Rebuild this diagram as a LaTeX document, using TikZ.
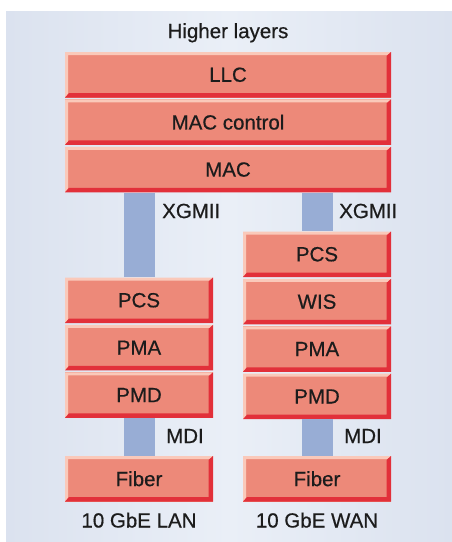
\documentclass[tikz,border=0pt]{standalone}
\usepackage{fontspec}
\setmainfont{Liberation Sans}[FakeBold=0.5]
\usetikzlibrary{positioning}

\definecolor{panelside}{RGB}{219,226,239}
\definecolor{panelmid}{RGB}{234,239,247}
\definecolor{layerfill}{RGB}{237,137,121}
\definecolor{layeredge}{RGB}{226,48,58}
\definecolor{layerlight}{RGB}{250,201,186}
\definecolor{barblue}{RGB}{152,173,213}
\definecolor{inktext}{RGB}{28,28,28}

\newcommand\layerfont{\fontsize{20.5}{24}\selectfont}

\begin{document}
\begin{tikzpicture}[
    x=1pt, y=-1pt,
    layer/.style={minimum width=148pt, minimum height=45.5pt, inner sep=0pt, fill=layerfill,
        text=inktext, font=\layerfont,
        path picture={
            \fill[layerlight] (path picture bounding box.south west) -- (path picture bounding box.north west)
                -- (path picture bounding box.north east) -- ([shift={(-3pt,-3pt)}]path picture bounding box.north east)
                -- ([shift={(3pt,-3pt)}]path picture bounding box.north west) -- ([shift={(3pt,3pt)}]path picture bounding box.south west) -- cycle;
            \fill[layeredge] (path picture bounding box.south west) -- (path picture bounding box.south east)
                -- (path picture bounding box.north east) -- ([shift={(-4.5pt,-4pt)}]path picture bounding box.north east)
                -- ([shift={(-4.5pt,4.5pt)}]path picture bounding box.south east) -- ([shift={(4pt,4.5pt)}]path picture bounding box.south west) -- cycle;
        }},
    widelayer/.style={layer, minimum width=326pt},
    bar/.style={draw=barblue, line width=31pt},
    iflabel/.style={anchor=west, inner sep=0pt, text=inktext, font=\layerfont},
    caption/.style={inner sep=0pt, text=inktext, font=\layerfont}
]
\useasboundingbox (0,0) rectangle (452,542);
\shade[left color=panelside, right color=panelside, middle color=panelmid] (6,11) rectangle (452,542);

% common upper layers
\node[widelayer] (llc) at (228,74.75) {LLC};
\node[widelayer, below=1.5pt of llc] (maccontrol) {MAC control};
\node[widelayer, below=1.5pt of maccontrol] (mac) {MAC};
\node[caption] (higher) at ([yshift=19pt]llc.north) {Higher layers};

% 10 GbE LAN stack
\node[layer] (pcsL) at (139,300.25) {PCS};
\node[layer, below=1.5pt of pcsL] (pmaL) {PMA};
\node[layer, below=1.5pt of pmaL] (pmdL) {PMD};
\node[layer] (fiberL) at (139,478.75) {Fiber};
\node[caption] (lan) at ([yshift=-18.5pt]fiberL.south) {10 GbE LAN};

% 10 GbE WAN stack
\node[layer] (pcsR) at (317,254.25) {PCS};
\node[layer, below=1.5pt of pcsR] (wisR) {WIS};
\node[layer, below=1.5pt of wisR] (pmaR) {PMA};
\node[layer, below=1.5pt of pmaR] (pmdR) {PMD};
\node[layer] (fiberR) at (317,478.75) {Fiber};
\node[caption] (wan) at ([yshift=-18.5pt]fiberR.south) {10 GbE WAN};

% interfaces
\draw[bar] (mac.south -| pcsL.north) -- (pcsL.north);
\draw[bar] (mac.south -| pcsR.north) -- (pcsR.north);
\draw[bar] (pmdL.south) -- (fiberL.north);
\draw[bar] (pmdR.south) -- (fiberR.north);

\node[iflabel] (xgmiiL) at (162,211) {XGMII};
\node[iflabel] (xgmiiR) at (339,211) {XGMII};
\node[iflabel] (mdiL) at (166,436) {MDI};
\node[iflabel] (mdiR) at (344,436) {MDI};
\end{tikzpicture}
\end{document}
